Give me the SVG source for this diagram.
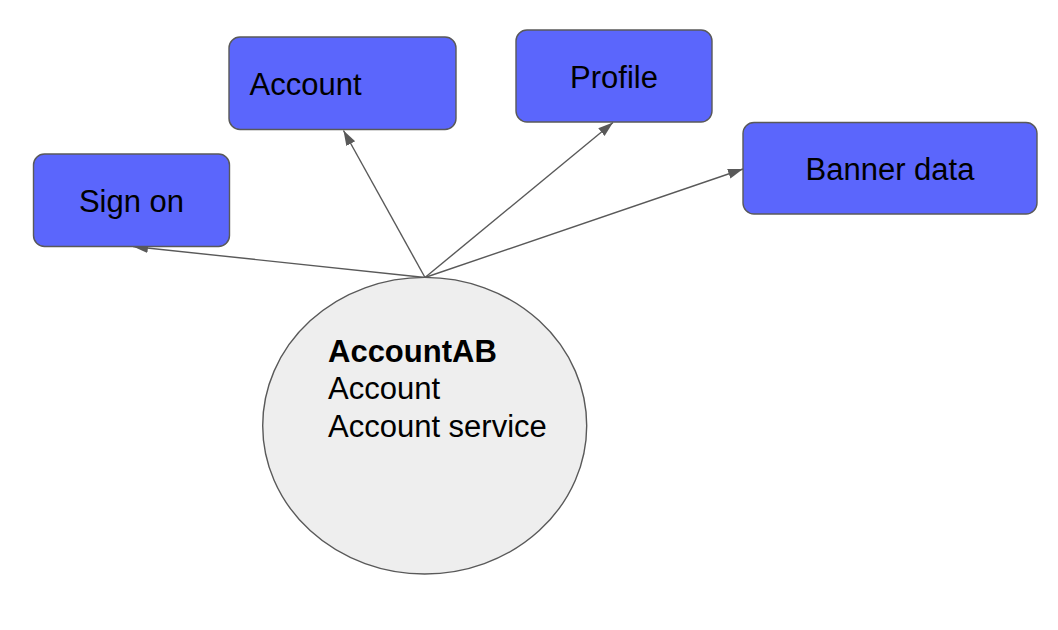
<svg xmlns="http://www.w3.org/2000/svg" width="1058" height="630" viewBox="0 0 1058 630">
<style>
.box{fill:#5b66fc;stroke:#595959;stroke-width:1.4}
.ell{fill:#eeeeee;stroke:#595959;stroke-width:1.4}
.lbl{font-family:"Liberation Sans",Arial,sans-serif;font-size:31px;fill:#000}
.c{text-anchor:middle}
.edge{stroke:#595959;stroke-width:1.4;fill:none;marker-end:url(#arr)}
</style>
<defs>
<marker id="arr" markerUnits="userSpaceOnUse" markerWidth="16" markerHeight="12" refX="15" refY="6" orient="auto">
<path d="M0,1 L15,6 L0,11 z" fill="#595959"/>
</marker>
</defs>
<rect width="1058" height="630" fill="#ffffff"/>
<g id="connectors">
<line class="edge" x1="425" y1="277.5" x2="133" y2="246.5"/>
<line class="edge" x1="425" y1="277.5" x2="343.5" y2="130.5"/>
<line class="edge" x1="425" y1="277.5" x2="613" y2="122.5"/>
<line class="edge" x1="425" y1="277.5" x2="743" y2="169"/>
</g>
<g id="sign-on">
<rect class="box" x="33.5" y="154" width="196" height="92.5" rx="11"/>
<text class="lbl c" x="131.5" y="212">Sign on</text>
</g>
<g id="account">
<rect class="box" x="229" y="37" width="227" height="92.5" rx="11"/>
<text class="lbl" x="249.5" y="95">Account</text>
</g>
<g id="profile">
<rect class="box" x="516" y="30" width="196" height="92" rx="11"/>
<text class="lbl c" x="614" y="87.5">Profile</text>
</g>
<g id="banner-data">
<rect class="box" x="743" y="122.5" width="294" height="91.5" rx="11"/>
<text class="lbl c" x="890" y="180">Banner data</text>
</g>
<g id="accountab">
<ellipse class="ell" cx="424.7" cy="425.7" rx="162" ry="148.3"/>
<text class="lbl" x="328" y="361.5" font-weight="bold">AccountAB</text>
<text class="lbl" x="328" y="399">Account</text>
<text class="lbl" x="328" y="436.5">Account service</text>
</g>
</svg>
